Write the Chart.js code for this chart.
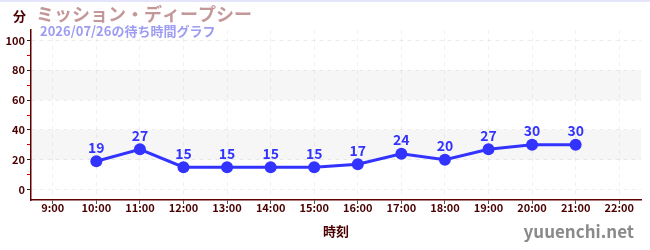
<!DOCTYPE html>
<html>
<head>
<meta charset="utf-8">
<script src="https://cdn.jsdelivr.net/npm/chart.js@4"></script>
<style>
  html, body { margin: 0; padding: 0; background: #fff; }
  #wrap { width: 650px; height: 250px; position: relative; border-top: 2px solid #e4e4fa; box-sizing: border-box; }
</style>
</head>
<body>
<div id="wrap"><canvas id="chartWait" width="650" height="248"></canvas></div>
<script>
const horas = ['9:00', '10:00', '11:00', '12:00', '13:00', '14:00', '15:00', '16:00', '17:00', '18:00', '19:00', '20:00', '21:00', '22:00'];
const espera = [null, 19, 27, 15, 15, 15, 15, 17, 24, 20, 27, 30, 30, null];
const faixas = [[20, 40], [60, 80]];

const fonte = '"Noto Sans CJK JP", "Noto Sans", sans-serif';
const azul = 'rgb(51,51,255)';
const vinho = '#4a0000';

// textos e faixas de fundo
const extras = {
    id: 'extras',
    beforeDatasetsDraw(chart) {
        const { ctx, chartArea, scales } = chart;
        ctx.save();
        ctx.fillStyle = 'rgba(0,0,0,0.035)';
        faixas.forEach(f => {
            const y1 = scales.y.getPixelForValue(f[1]);
            const y0 = scales.y.getPixelForValue(f[0]);
            ctx.fillRect(chartArea.left, y1, chartArea.right - chartArea.left, y0 - y1);
        });
        ctx.restore();
    },
    afterDraw(chart) {
        const { ctx, scales } = chart;
        ctx.save();
        ctx.textBaseline = 'alphabetic';
        ctx.textAlign = 'left';
        ctx.fillStyle = vinho;
        ctx.font = 'bold 13px ' + fonte;
        ctx.fillText('分', 13, 19);
        ctx.fillStyle = '#c49898';
        ctx.font = 'bold 18px ' + fonte;
        ctx.fillText('ミッション・ディープシー', 36, 19);
        ctx.fillStyle = '#9c9cf2';
        ctx.font = 'bold 13px ' + fonte;
        ctx.fillText('2026/07/26の待ち時間グラフ', 40, 34);
        ctx.fillStyle = '#8a8a8a';
        ctx.font = 'bold 17px ' + fonte;
        ctx.textAlign = 'right';
        ctx.fillText('yuuenchi.net', 634, 236);

        // rótulos dos pontos
        ctx.fillStyle = azul;
        ctx.font = 'bold 14px ' + fonte;
        ctx.textAlign = 'center';
        ctx.textBaseline = 'bottom';
        espera.forEach((v, i) => {
            if (v === null) return;
            const x = scales.x.getPixelForValue(i);
            const y = scales.y.getPixelForValue(v);
            ctx.fillText(String(v), x, y - 7);
        });
        ctx.restore();
    }
};

new Chart(document.getElementById('chartWait'), {
    type: 'line',
    data: {
        labels: horas,
        datasets: [{
            data: espera,
            borderColor: azul,
            backgroundColor: azul,
            borderWidth: 3,
            pointRadius: 6,
            pointBackgroundColor: azul,
            pointBorderWidth: 0,
            tension: 0,
            spanGaps: false
        }]
    },
    options: {
        responsive: false,
        animation: false,
        devicePixelRatio: 1,
        layout: { padding: { top: 28, right: 9, left: 0, bottom: 2 } },
        plugins: {
            legend: { display: false },
            tooltip: { enabled: false }
        },
        scales: {
            x: {
                offset: true,
                afterFit: s => { s.height = 48; },
                grid: {
                    color: 'rgba(0,0,0,0.06)',
                    tickColor: '#555',
                    tickLength: 4,
                    offset: false
                },
                border: { color: '#600000', width: 1.5, dash: [4, 4] },
                ticks: {
                    color: vinho,
                    font: { family: fonte, size: 11, weight: 'bold' },
                    padding: -3,
                    maxRotation: 0,
                    autoSkip: false
                },
                title: {
                    display: true,
                    text: '時刻',
                    color: vinho,
                    font: { family: fonte, size: 13, weight: 'bold' },
                    padding: { top: 0, bottom: 9 }
                }
            },
            y: {
                min: -7,
                max: 107,
                afterFit: s => { s.width = 31; },
                afterBuildTicks: s => {
                    s.ticks = [];
                    for (let v = 0; v <= 100; v += 10) s.ticks.push({ value: v });
                },
                grid: {
                    color: c => (c.tick && c.tick.value % 20 === 0) ? 'rgba(0,0,0,0.07)' : 'rgba(0,0,0,0)',
                    tickColor: c => (c.tick && c.tick.value % 20 === 0) ? '#222' : '#d00000',
                    tickLength: 4
                },
                border: { color: '#600000', width: 1.5, dash: [4, 4] },
                ticks: {
                    color: vinho,
                    font: { family: fonte, size: 11, weight: 'bold' },
                    padding: 2,
                    callback: v => (v % 20 === 0 ? v : '')
                }
            }
        }
    },
    plugins: [extras]
});
</script>
</body>
</html>
